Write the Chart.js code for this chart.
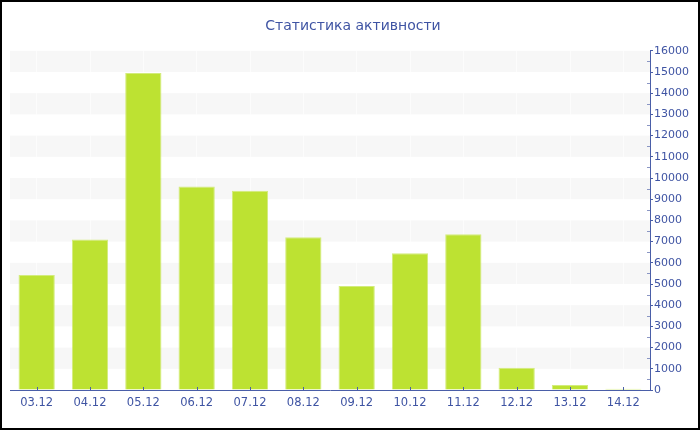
<!DOCTYPE html>
<html>
<head>
<meta charset="utf-8">
<script src="https://cdn.jsdelivr.net/npm/chart.js@4"></script>
<style>
    body { margin: 0; background: #fff; }
    #wrap { width: 700px; height: 430px; box-sizing: border-box; border: 2px solid #000; }
</style>
</head>
<body>
<div id="wrap"><canvas id="activityChart" width="696" height="426"></canvas></div>
<script>
// Статистика активности — bar chart
var days = ['03.12', '04.12', '05.12', '06.12', '07.12', '08.12', '09.12', '10.12', '11.12', '12.12', '13.12', '14.12'];
var activity = [5420, 7100, 14950, 9600, 9400, 7200, 4900, 6450, 7350, 1050, 240, 60];
var yMax = 16000;
var yStep = 1000;

var axisColor = '#4a5ea8';
var textColor = '#3f54a3';
var font = 'DejaVu Sans';

// grey bands every other step + small ticks
var decorPlugin = {
    id: 'decor',
    beforeDraw: function (chart) {
        var ctx = chart.ctx;
        var area = chart.chartArea;
        var y = chart.scales.y;
        ctx.save();
        ctx.fillStyle = '#f7f7f7';
        for (var v = yStep; v < yMax; v += 2 * yStep) {
            var top = y.getPixelForValue(v + yStep);
            var bottom = y.getPixelForValue(v);
            ctx.fillRect(area.left, top, area.right - area.left, bottom - top);
        }
        ctx.restore();
    },
    afterDraw: function (chart) {
        var ctx = chart.ctx;
        var area = chart.chartArea;
        var y = chart.scales.y;
        var x = chart.scales.x;
        ctx.save();
        ctx.strokeStyle = '#8a96c4';
        ctx.lineWidth = 1;
        ctx.beginPath();
        // minor ticks at half steps
        for (var v = yStep / 2; v < yMax; v += yStep) {
            var py = Math.round(y.getPixelForValue(v)) + 0.5;
            ctx.moveTo(area.right - 3, py);
            ctx.lineTo(area.right, py);
        }
        ctx.stroke();
        ctx.strokeStyle = axisColor;
        ctx.beginPath();
        for (var i = 0; i < days.length; i++) {
            var px = Math.round(x.getPixelForValue(i)) + 0.5;
            ctx.moveTo(px, area.bottom);
            ctx.lineTo(px, area.bottom - 3);
        }
        ctx.stroke();
        ctx.restore();
    }
};

var ctx = document.getElementById('activityChart').getContext('2d');
var chart = new Chart(ctx, {
    type: 'bar',
    data: {
        labels: days,
        datasets: [{
            label: 'Активность',
            data: activity,
            backgroundColor: '#bde232',
            borderColor: '#d3ec7c',
            borderWidth: 1,
            barPercentage: 0.68,
            categoryPercentage: 1
        }]
    },
    options: {
        responsive: false,
        animation: false,
        layout: { padding: { left: 8, right: 2, top: 0, bottom: 8 } },
        plugins: {
            legend: { display: false },
            tooltip: { enabled: false },
            title: {
                display: true,
                text: 'Статистика активности',
                color: textColor,
                font: { family: font, size: 14, weight: 'normal' },
                padding: { top: 16, bottom: 16 }
            }
        },
        scales: {
            x: {
                grid: { offset: false, color: 'rgba(255,255,255,0.6)', drawTicks: false },
                border: { color: axisColor, width: 1 },
                ticks: { color: textColor, font: { family: font, size: 11.5 }, padding: 6 },
                afterFit: function (scale) { scale.height = 30; }
            },
            y: {
                position: 'right',
                min: 0,
                max: yMax,
                grid: { drawOnChartArea: false, tickLength: 3, color: axisColor },
                border: { color: axisColor, width: 1 },
                ticks: {
                    stepSize: yStep,
                    color: textColor,
                    font: { family: font, size: 11 },
                    padding: 1,
                    callback: function (v) { return String(v); }
                },
                afterFit: function (scale) { scale.width = 46; }
            }
        }
    },
    plugins: [decorPlugin]
});
</script>
</body>
</html>
